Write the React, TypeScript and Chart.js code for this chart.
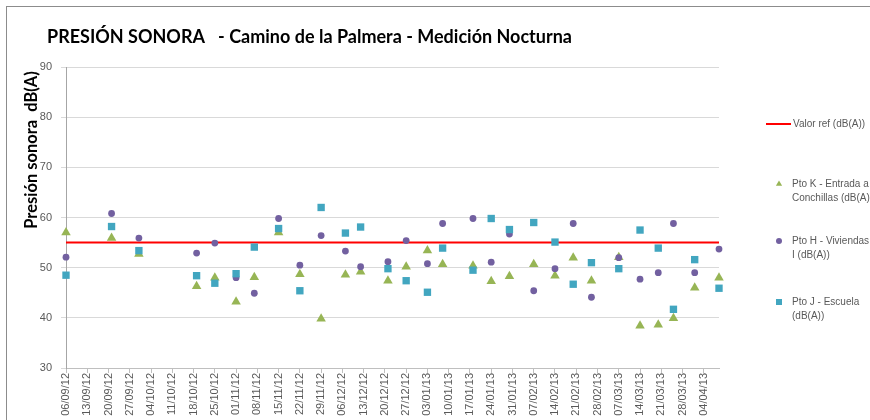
import React, { useEffect, useRef } from 'react';
import { Chart, registerables } from 'chart.js';

Chart.register(...registerables);

// ---------- data ----------
const chartTitle = 'PRESIÓN SONORA   - Camino de la Palmera - Medición Nocturna';
const yAxisTitle = 'Presión sonora  dB(A)';

const axisStartDate = '06/09/12';
const axisEndDate = '09/04/13';
const lastTickDate = '04/04/13';
const tickStepDays = 7;

const yMin = 30;
const yMax = 90;
const yStep = 10;

const measureDates = [
  '06/09/12', '21/09/12', '30/09/12', '19/10/12', '25/10/12', '01/11/12', '07/11/12', '15/11/12',
  '22/11/12', '29/11/12', '07/12/12', '12/12/12', '21/12/12', '27/12/12', '03/01/13', '08/01/13',
  '18/01/13', '24/01/13', '30/01/13', '07/02/13', '14/02/13', '20/02/13', '26/02/13', '07/03/13',
  '14/03/13', '20/03/13', '25/03/13', '01/04/13', '09/04/13',
];

const refLabel = 'Valor ref (dB(A))';
const refValue = 55;

const kLabel = 'Pto K - Entrada a\nConchillas (dB(A))';
const kValues = [
  57.0, 55.9, 52.7, 46.3, 48.0, 43.2, 48.1, 57.0, 48.7, 39.8, 48.6, 49.2, 47.4, 50.2, 53.4, 50.7,
  50.4, 47.3, 48.3, 50.7, 48.4, 52.0, 47.4, 52.1, 38.4, 38.6, 39.9, 46.0, 48.0,
];

const hLabel = 'Pto H - Viviendas\nI (dB(A))';
const hValues = [
  52.1, 60.8, 55.9, 52.9, 54.9, 48.0, 44.9, 59.8, 50.5, 56.4, 53.3, 50.2, 51.2, 55.4, 50.8, 58.8,
  59.8, 51.1, 56.7, 45.4, 49.8, 58.8, 44.1, 52.0, 47.7, 49.0, 58.8, 49.0, 53.7,
];

const jLabel = 'Pto J - Escuela\n(dB(A))';
const jValues = [
  48.5, 58.2, 53.4, 48.4, 46.9, 48.8, 54.1, 57.8, 45.4, 62.0, 56.9, 58.1, 49.8, 47.4, 45.1, 53.9,
  49.5, 59.8, 57.6, 59.0, 55.1, 46.7, 51.0, 49.8, 57.5, 53.9, 41.7, 51.6, 45.9,
];

// ---------- helpers ----------
const DAY_MS = 86400000;
function parseDate(s: string): number {
  const [d, m, y] = s.split('/').map(Number);
  return Date.UTC(2000 + y, m - 1, d);
}
const originMs = parseDate(axisStartDate);
const toDay = (s: string) => Math.round((parseDate(s) - originMs) / DAY_MS);
const pad2 = (n: number) => (n < 10 ? '0' + n : '' + n);
function formatDay(day: number): string {
  const dt = new Date(originMs + day * DAY_MS);
  return pad2(dt.getUTCDate()) + '/' + pad2(dt.getUTCMonth() + 1) + '/' + pad2(dt.getUTCFullYear() % 100);
}

const GREEN = '#97B555';
const PURPLE = '#7260A0';
const TEAL = '#42A6C0';
const RED = '#FF0000';
const TEXT = '#595959';
const FONT = "'Liberation Sans', Arial, sans-serif";

export default function App() {
  const canvasRef = useRef<HTMLCanvasElement | null>(null);

  useEffect(() => {
    document.body.style.margin = '0';
    const canvas = canvasRef.current;
    if (!canvas) return;

    const xMax = toDay(axisEndDate);
    const lastTick = toDay(lastTickDate);
    const tickDays: number[] = [];
    for (let d = 0; d <= lastTick; d += tickStepDays) tickDays.push(d);

    const series = (vals: number[]) => measureDates.map((s, i) => ({ x: toDay(s), y: vals[i] }));

    const decoPlugin = {
      id: 'deco',
      beforeDraw(chart: any) {
        const ctx = chart.ctx;
        ctx.save();
        ctx.fillStyle = '#ffffff';
        ctx.fillRect(0, 0, chart.width, chart.height);
        ctx.restore();
      },
      afterDraw(chart: any) {
        const ctx = chart.ctx as CanvasRenderingContext2D;
        ctx.save();
        // frame
        ctx.strokeStyle = '#8c8c8c';
        ctx.lineWidth = 1;
        ctx.strokeRect(6.5, 6.5, 1200, 1200);

        // title
        ctx.fillStyle = '#000000';
        ctx.font = "bold 18px Lato, 'Liberation Sans', sans-serif";
        ctx.textAlign = 'left';
        ctx.textBaseline = 'alphabetic';
        ctx.fillText(chartTitle, 47, 43);

        // y axis title
        ctx.save();
        ctx.translate(32, 150);
        ctx.rotate(-Math.PI / 2);
        ctx.font = "bold 16.5px Lato, 'Liberation Sans', sans-serif";
        ctx.textAlign = 'center';
        ctx.textBaseline = 'middle';
        ctx.fillText(yAxisTitle, 0, 0);
        ctx.restore();

        // legend
        const itemY = [124, 184, 241, 302];
        const markerX = 779;
        const textX = 792;
        const lineH = 14;
        ctx.font = '10px ' + FONT;
        ctx.textBaseline = 'middle';
        ctx.textAlign = 'left';
        [0, 1, 2, 3].forEach((di, k) => {
          const ds = chart.data.datasets[di];
          const y = itemY[k];
          ctx.fillStyle = ds.backgroundColor;
          ctx.strokeStyle = ds.borderColor;
          if (ds.showLine) {
            ctx.lineWidth = 2;
            ctx.beginPath();
            ctx.moveTo(766, y);
            ctx.lineTo(791, y);
            ctx.stroke();
          } else if (ds.pointStyle === 'triangle') {
            const r = 3.6;
            ctx.beginPath();
            ctx.moveTo(markerX, y - r);
            ctx.lineTo(markerX + r * 0.866, y + r / 2);
            ctx.lineTo(markerX - r * 0.866, y + r / 2);
            ctx.closePath();
            ctx.fill();
          } else if (ds.pointStyle === 'circle') {
            ctx.beginPath();
            ctx.arc(markerX, y, 3, 0, Math.PI * 2);
            ctx.fill();
          } else {
            ctx.fillRect(markerX - 3, y - 3, 6, 6);
          }
          ctx.fillStyle = TEXT;
          const lines = String(ds.label).split('\n');
          const tx = ds.showLine ? 793 : textX;
          lines.forEach((ln, li) => ctx.fillText(ln, tx, y + li * lineH));
        });
        ctx.restore();
      },
    };

    const chart = new Chart(canvas, {
      type: 'scatter',
      data: {
        datasets: [
          {
            label: refLabel,
            data: [{ x: 0, y: refValue }, { x: xMax, y: refValue }],
            showLine: true,
            borderColor: RED,
            backgroundColor: RED,
            borderWidth: 2,
            pointRadius: 0,
            order: 4,
          },
          {
            label: kLabel,
            data: series(kValues),
            pointStyle: 'triangle',
            pointRadius: 5.5,
            borderWidth: 0,
            backgroundColor: GREEN,
            borderColor: GREEN,
            clip: false,
            order: 3,
          },
          {
            label: hLabel,
            data: series(hValues),
            pointStyle: 'circle',
            pointRadius: 3.4,
            borderWidth: 0,
            backgroundColor: PURPLE,
            borderColor: PURPLE,
            clip: false,
            order: 2,
          },
          {
            label: jLabel,
            data: series(jValues),
            pointStyle: 'rect',
            pointRadius: 5.2,
            borderWidth: 0,
            backgroundColor: TEAL,
            borderColor: TEAL,
            clip: false,
            order: 1,
          },
        ] as any,
      },
      options: {
        responsive: false,
        animation: false,
        devicePixelRatio: 1,
        layout: { padding: { left: 8, top: 67, right: 151, bottom: 0 } },
        plugins: {
          legend: { display: false },
          title: { display: false },
          tooltip: { enabled: false },
        },
        scales: {
          x: {
            type: 'linear',
            min: 0,
            max: xMax,
            afterFit: (s: any) => {
              s.height = 52;
            },
            afterBuildTicks: (s: any) => {
              s.ticks = tickDays.map((v) => ({ value: v }));
            },
            ticks: {
              autoSkip: false,
              maxRotation: 90,
              minRotation: 90,
              padding: 0,
              color: TEXT,
              font: { family: FONT, size: 11 },
              callback: (v: any) => formatDay(Number(v)),
            },
            grid: { drawOnChartArea: false, drawTicks: true, tickLength: 5, color: '#bfbfbf' },
            border: { color: '#bfbfbf' },
          },
          y: {
            min: yMin,
            max: yMax,
            afterFit: (s: any) => {
              s.width = 58;
            },
            ticks: {
              stepSize: yStep,
              padding: 9,
              color: TEXT,
              font: { family: FONT, size: 11 },
            },
            grid: { color: '#d9d9d9', drawTicks: true, tickLength: 5 },
            border: { color: '#a6a6a6' },
          },
        },
      } as any,
      plugins: [decoPlugin],
    });

    return () => chart.destroy();
  }, []);

  return (
    <div style={{ width: 870, height: 420, overflow: 'hidden', position: 'relative' }}>
      <canvas ref={canvasRef} width={870} height={420} style={{ display: 'block' }} />
    </div>
  );
}
